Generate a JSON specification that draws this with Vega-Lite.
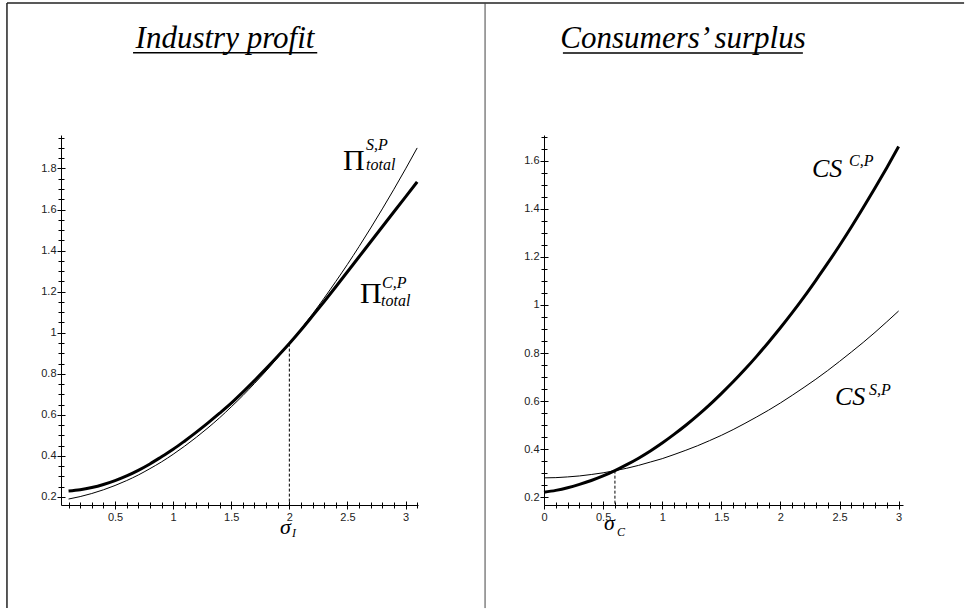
{
  "$schema": "https://vega.github.io/schema/vega-lite/v6.json",
  "background": "white",
  "padding": {"left": 6, "top": 2, "right": 0, "bottom": 0},
  "spacing": 126,
  "bounds": "flush",
  "config": {
    "view": {"stroke": null},
    "axis": {"grid": false, "domainColor": "black", "tickColor": "black", "labelColor": "#222", "labelFont": "Liberation Sans", "labelFontSize": 11, "labelOverlap": false, "labelFlush": false, "labelBound": false, "tickWidth": 1, "domainWidth": 1, "title": null}
  },
  "datasets": {
    "leftThick": [
      {"x": 0.1, "y": 0.229}, {"x": 0.2, "y": 0.235}, {"x": 0.3, "y": 0.246}, {"x": 0.4, "y": 0.261}, {"x": 0.5, "y": 0.28}, {"x": 0.6, "y": 0.303}, {"x": 0.7, "y": 0.33}, {"x": 0.8, "y": 0.361}, {"x": 0.9, "y": 0.396}, {"x": 1.0, "y": 0.432}, {"x": 1.1, "y": 0.473}, {"x": 1.2, "y": 0.516}, {"x": 1.3, "y": 0.561}, {"x": 1.4, "y": 0.608}, {"x": 1.5, "y": 0.657}, {"x": 1.6, "y": 0.711}, {"x": 1.7, "y": 0.767}, {"x": 1.8, "y": 0.825}, {"x": 1.9, "y": 0.885}, {"x": 2.0, "y": 0.947}, {"x": 2.1, "y": 1.013}, {"x": 2.2, "y": 1.082}, {"x": 2.3, "y": 1.152}, {"x": 2.4, "y": 1.224}, {"x": 2.5, "y": 1.297}, {"x": 2.6, "y": 1.37}, {"x": 2.7, "y": 1.443}, {"x": 2.8, "y": 1.516}, {"x": 2.9, "y": 1.589}, {"x": 3.0, "y": 1.662}, {"x": 3.1, "y": 1.735}
    ],
    "leftThin": [
      {"x": 0.1, "y": 0.19}, {"x": 0.2, "y": 0.202}, {"x": 0.3, "y": 0.217}, {"x": 0.4, "y": 0.235}, {"x": 0.5, "y": 0.256}, {"x": 0.6, "y": 0.28}, {"x": 0.7, "y": 0.307}, {"x": 0.8, "y": 0.338}, {"x": 0.9, "y": 0.371}, {"x": 1.0, "y": 0.408}, {"x": 1.1, "y": 0.448}, {"x": 1.2, "y": 0.491}, {"x": 1.3, "y": 0.537}, {"x": 1.4, "y": 0.586}, {"x": 1.5, "y": 0.639}, {"x": 1.6, "y": 0.694}, {"x": 1.7, "y": 0.753}, {"x": 1.8, "y": 0.814}, {"x": 1.9, "y": 0.879}, {"x": 2.0, "y": 0.947}, {"x": 2.1, "y": 1.018}, {"x": 2.2, "y": 1.092}, {"x": 2.3, "y": 1.169}, {"x": 2.4, "y": 1.25}, {"x": 2.5, "y": 1.333}, {"x": 2.6, "y": 1.42}, {"x": 2.7, "y": 1.51}, {"x": 2.8, "y": 1.603}, {"x": 2.9, "y": 1.699}, {"x": 3.0, "y": 1.798}, {"x": 3.1, "y": 1.9}
    ],
    "rightThick": [
      {"x": 0.0, "y": 0.22}, {"x": 0.1, "y": 0.228}, {"x": 0.2, "y": 0.239}, {"x": 0.3, "y": 0.253}, {"x": 0.4, "y": 0.269}, {"x": 0.5, "y": 0.288}, {"x": 0.6, "y": 0.31}, {"x": 0.7, "y": 0.335}, {"x": 0.8, "y": 0.362}, {"x": 0.9, "y": 0.392}, {"x": 1.0, "y": 0.425}, {"x": 1.1, "y": 0.461}, {"x": 1.2, "y": 0.499}, {"x": 1.3, "y": 0.54}, {"x": 1.4, "y": 0.584}, {"x": 1.5, "y": 0.631}, {"x": 1.6, "y": 0.68}, {"x": 1.7, "y": 0.732}, {"x": 1.8, "y": 0.787}, {"x": 1.9, "y": 0.845}, {"x": 2.0, "y": 0.905}, {"x": 2.1, "y": 0.968}, {"x": 2.2, "y": 1.034}, {"x": 2.3, "y": 1.103}, {"x": 2.4, "y": 1.174}, {"x": 2.5, "y": 1.248}, {"x": 2.6, "y": 1.325}, {"x": 2.7, "y": 1.405}, {"x": 2.8, "y": 1.487}, {"x": 2.9, "y": 1.572}, {"x": 3.0, "y": 1.66}
    ],
    "rightThin": [
      {"x": 0.0, "y": 0.28}, {"x": 0.1, "y": 0.281}, {"x": 0.2, "y": 0.284}, {"x": 0.3, "y": 0.288}, {"x": 0.4, "y": 0.294}, {"x": 0.5, "y": 0.301}, {"x": 0.6, "y": 0.31}, {"x": 0.7, "y": 0.32}, {"x": 0.8, "y": 0.332}, {"x": 0.9, "y": 0.346}, {"x": 1.0, "y": 0.36}, {"x": 1.1, "y": 0.377}, {"x": 1.2, "y": 0.395}, {"x": 1.3, "y": 0.414}, {"x": 1.4, "y": 0.435}, {"x": 1.5, "y": 0.457}, {"x": 1.6, "y": 0.481}, {"x": 1.7, "y": 0.507}, {"x": 1.8, "y": 0.534}, {"x": 1.9, "y": 0.562}, {"x": 2.0, "y": 0.592}, {"x": 2.1, "y": 0.624}, {"x": 2.2, "y": 0.657}, {"x": 2.3, "y": 0.691}, {"x": 2.4, "y": 0.727}, {"x": 2.5, "y": 0.765}, {"x": 2.6, "y": 0.804}, {"x": 2.7, "y": 0.844}, {"x": 2.8, "y": 0.886}, {"x": 2.9, "y": 0.93}, {"x": 3.0, "y": 0.975}
    ]
  },
  "hconcat": [
    {
      "width": 357,
      "height": 370,
      "resolve": {"axis": {"x": "independent", "y": "independent"}},
      "layer": [
        {
          "data": {"name": "leftThick"},
          "mark": {"type": "line", "stroke": "black", "strokeWidth": 3, "interpolate": "monotone"},
          "encoding": {
            "x": {"field": "x", "type": "quantitative", "scale": {"domain": [0.035, 3.107], "nice": false, "zero": false}, "axis": {"orient": "bottom", "values": [0.5, 1, 1.5, 2, 2.5, 3], "format": "~g", "tickSize": 4, "labelPadding": 2}},
            "y": {"field": "y", "type": "quantitative", "scale": {"domain": [0.161, 1.963], "nice": false, "zero": false}, "axis": {"orient": "left", "values": [0.2, 0.4, 0.6, 0.8, 1, 1.2, 1.4, 1.6, 1.8], "format": "~g", "tickSize": 4, "labelPadding": 1}}
          }
        },
        {
          "data": {"name": "leftThin"},
          "mark": {"type": "line", "stroke": "black", "strokeWidth": 1, "interpolate": "monotone"},
          "encoding": {
            "x": {"field": "x", "type": "quantitative", "scale": {"domain": [0.035, 3.107], "nice": false, "zero": false}, "axis": {"orient": "top", "offset": -370, "values": [0.5, 1, 1.5, 2, 2.5, 3], "tickSize": 4, "labels": false, "domain": false}},
            "y": {"field": "y", "type": "quantitative", "scale": {"domain": [0.161, 1.963], "nice": false, "zero": false}, "axis": {"orient": "right", "offset": -357, "values": [0.2, 0.4, 0.6, 0.8, 1, 1.2, 1.4, 1.6, 1.8], "tickSize": 4, "labels": false, "domain": false}}
          }
        },
        {
          "data": {"values": [{"x": 2.0, "y": 0.947, "y2": 0.161}]},
          "mark": {"type": "rule", "stroke": "black", "strokeWidth": 1, "strokeDash": [3, 2]},
          "encoding": {
            "x": {"field": "x", "type": "quantitative", "scale": {"domain": [0.035, 3.107], "nice": false, "zero": false}, "axis": {"orient": "bottom", "values": [0.1, 0.2, 0.3, 0.4, 0.5, 0.6, 0.7, 0.8, 0.9, 1, 1.1, 1.2, 1.3, 1.4, 1.5, 1.6, 1.7, 1.8, 1.9, 2, 2.1, 2.2, 2.3, 2.4, 2.5, 2.6, 2.7, 2.8, 2.9, 3, 3.1], "tickSize": 3, "labels": false, "domain": false}},
            "y": {"field": "y", "type": "quantitative", "scale": {"domain": [0.161, 1.963], "nice": false, "zero": false}, "axis": {"orient": "left", "values": [0.2, 0.25, 0.3, 0.35, 0.4, 0.45, 0.5, 0.55, 0.6, 0.65, 0.7, 0.75, 0.8, 0.85, 0.9, 0.95, 1, 1.05, 1.1, 1.15, 1.2, 1.25, 1.3, 1.35, 1.4, 1.45, 1.5, 1.55, 1.6, 1.65, 1.7, 1.75, 1.8, 1.85, 1.9, 1.95], "tickSize": 3, "labels": false, "domain": false}},
            "y2": {"field": "y2"}
          }
        },
        {
          "data": {"values": [{"x": 2.462, "y": 1.793, "t": "Π"}, {"x": 2.608, "y": 1.145, "t": "Π"}]},
          "mark": {"type": "text", "font": "Liberation Serif", "fontSize": 30, "align": "left", "baseline": "alphabetic", "color": "black"},
          "encoding": {
            "x": {"field": "x", "type": "quantitative", "scale": {"domain": [0.035, 3.107], "nice": false, "zero": false}, "axis": {"orient": "top", "offset": -370, "values": [0.1, 0.2, 0.3, 0.4, 0.5, 0.6, 0.7, 0.8, 0.9, 1, 1.1, 1.2, 1.3, 1.4, 1.5, 1.6, 1.7, 1.8, 1.9, 2, 2.1, 2.2, 2.3, 2.4, 2.5, 2.6, 2.7, 2.8, 2.9, 3, 3.1], "tickSize": 3, "labels": false, "domain": false}},
            "y": {"field": "y", "type": "quantitative", "scale": {"domain": [0.161, 1.963], "nice": false, "zero": false}, "axis": {"orient": "right", "offset": -357, "values": [0.2, 0.25, 0.3, 0.35, 0.4, 0.45, 0.5, 0.55, 0.6, 0.65, 0.7, 0.75, 0.8, 0.85, 0.9, 0.95, 1, 1.05, 1.1, 1.15, 1.2, 1.25, 1.3, 1.35, 1.4, 1.45, 1.5, 1.55, 1.6, 1.65, 1.7, 1.75, 1.8, 1.85, 1.9, 1.95], "tickSize": 3, "labels": false, "domain": false}},
            "text": {"field": "t"}
          }
        },
        {
          "data": {"values": [{"x": 2.66, "y": 1.89, "t": "S,P"}, {"x": 2.66, "y": 1.793, "t": "total"}, {"x": 2.797, "y": 1.218, "t": "C,P"}, {"x": 2.789, "y": 1.13, "t": "total"}]},
          "mark": {"type": "text", "font": "Liberation Serif", "fontStyle": "italic", "fontSize": 16, "align": "left", "baseline": "alphabetic", "color": "black"},
          "encoding": {
            "x": {"field": "x", "type": "quantitative", "scale": {"domain": [0.035, 3.107], "nice": false, "zero": false}, "axis": null},
            "y": {"field": "y", "type": "quantitative", "scale": {"domain": [0.161, 1.963], "nice": false, "zero": false}, "axis": null},
            "text": {"field": "t"}
          }
        },
        {
          "data": {"values": [{"x": 1.92, "y": 0.0198, "t": "σ"}]},
          "mark": {"type": "text", "font": "Liberation Serif", "fontStyle": "italic", "fontSize": 22, "align": "left", "baseline": "alphabetic", "color": "black"},
          "encoding": {
            "x": {"field": "x", "type": "quantitative", "scale": {"domain": [0.035, 3.107], "nice": false, "zero": false}, "axis": null},
            "y": {"field": "y", "type": "quantitative", "scale": {"domain": [0.161, 1.963], "nice": false, "zero": false}, "axis": null},
            "text": {"field": "t"}
          }
        },
        {
          "data": {"values": [{"x": 2.023, "y": 0.0052, "t": "I"}]},
          "mark": {"type": "text", "font": "Liberation Serif", "fontStyle": "italic", "fontSize": 12, "align": "left", "baseline": "alphabetic", "color": "black"},
          "encoding": {
            "x": {"field": "x", "type": "quantitative", "scale": {"domain": [0.035, 3.107], "nice": false, "zero": false}, "axis": null},
            "y": {"field": "y", "type": "quantitative", "scale": {"domain": [0.161, 1.963], "nice": false, "zero": false}, "axis": null},
            "text": {"field": "t"}
          }
        },
        {
          "data": {"values": [{"x": 1.446, "y": 2.387, "t": "Industry profit"}]},
          "mark": {"type": "text", "font": "Liberation Serif", "fontStyle": "italic", "fontSize": 31, "align": "center", "baseline": "alphabetic", "color": "black"},
          "encoding": {
            "x": {"field": "x", "type": "quantitative", "scale": {"domain": [0.035, 3.107], "nice": false, "zero": false}, "axis": null},
            "y": {"field": "y", "type": "quantitative", "scale": {"domain": [0.161, 1.963], "nice": false, "zero": false}, "axis": null},
            "text": {"field": "t"}
          }
        },
        {
          "data": {"values": [{"x": 0.655, "x2": 2.24, "y": 2.363}]},
          "mark": {"type": "rule", "stroke": "black", "strokeWidth": 1.5},
          "encoding": {
            "x": {"field": "x", "type": "quantitative", "scale": {"domain": [0.035, 3.107], "nice": false, "zero": false}, "axis": null},
            "x2": {"field": "x2"},
            "y": {"field": "y", "type": "quantitative", "scale": {"domain": [0.161, 1.963], "nice": false, "zero": false}, "axis": null}
          }
        },
        {
          "data": {"values": [{"x": -0.43, "x2": -0.43, "y": 2.606, "y2": -0.341}, {"x": -0.43, "x2": 7.806, "y": 2.606, "y2": 2.606}]},
          "mark": {"type": "rule", "stroke": "#222", "strokeWidth": 1.5},
          "encoding": {
            "x": {"field": "x", "type": "quantitative", "scale": {"domain": [0.035, 3.107], "nice": false, "zero": false}, "axis": null},
            "x2": {"field": "x2"},
            "y": {"field": "y", "type": "quantitative", "scale": {"domain": [0.161, 1.963], "nice": false, "zero": false}, "axis": null},
            "y2": {"field": "y2"}
          }
        },
        {
          "data": {"values": [{"x": 3.684, "x2": 3.684, "y": 2.606, "y2": -0.341}]},
          "mark": {"type": "rule", "stroke": "#444", "strokeWidth": 1},
          "encoding": {
            "x": {"field": "x", "type": "quantitative", "scale": {"domain": [0.035, 3.107], "nice": false, "zero": false}, "axis": null},
            "x2": {"field": "x2"},
            "y": {"field": "y", "type": "quantitative", "scale": {"domain": [0.161, 1.963], "nice": false, "zero": false}, "axis": null},
            "y2": {"field": "y2"}
          }
        }
      ]
    },
    {
      "width": 359,
      "height": 370,
      "resolve": {"axis": {"x": "independent", "y": "independent"}},
      "layer": [
        {
          "data": {"name": "rightThick"},
          "mark": {"type": "line", "stroke": "black", "strokeWidth": 3, "interpolate": "monotone"},
          "encoding": {
            "x": {"field": "x", "type": "quantitative", "scale": {"domain": [0, 3.037], "nice": false, "zero": false}, "axis": {"orient": "bottom", "values": [0, 0.5, 1, 1.5, 2, 2.5, 3], "format": "~g", "tickSize": 4, "labelPadding": 2}},
            "y": {"field": "y", "type": "quantitative", "scale": {"domain": [0.167, 1.708], "nice": false, "zero": false}, "axis": {"orient": "left", "values": [0.2, 0.4, 0.6, 0.8, 1, 1.2, 1.4, 1.6], "format": "~g", "tickSize": 4, "labelPadding": 1}}
          }
        },
        {
          "data": {"name": "rightThin"},
          "mark": {"type": "line", "stroke": "black", "strokeWidth": 1, "interpolate": "monotone"},
          "encoding": {
            "x": {"field": "x", "type": "quantitative", "scale": {"domain": [0, 3.037], "nice": false, "zero": false}, "axis": {"orient": "top", "offset": -370, "values": [0, 0.5, 1, 1.5, 2, 2.5, 3], "tickSize": 4, "labels": false, "domain": false}},
            "y": {"field": "y", "type": "quantitative", "scale": {"domain": [0.167, 1.708], "nice": false, "zero": false}, "axis": {"orient": "right", "offset": -359, "values": [0.2, 0.4, 0.6, 0.8, 1, 1.2, 1.4, 1.6], "tickSize": 4, "labels": false, "domain": false}}
          }
        },
        {
          "data": {"values": [{"x": 0.6, "y": 0.31, "y2": 0.167}]},
          "mark": {"type": "rule", "stroke": "black", "strokeWidth": 1, "strokeDash": [3, 2]},
          "encoding": {
            "x": {"field": "x", "type": "quantitative", "scale": {"domain": [0, 3.037], "nice": false, "zero": false}, "axis": {"orient": "bottom", "values": [0.1, 0.2, 0.3, 0.4, 0.5, 0.6, 0.7, 0.8, 0.9, 1, 1.1, 1.2, 1.3, 1.4, 1.5, 1.6, 1.7, 1.8, 1.9, 2, 2.1, 2.2, 2.3, 2.4, 2.5, 2.6, 2.7, 2.8, 2.9, 3], "tickSize": 3, "labels": false, "domain": false}},
            "y": {"field": "y", "type": "quantitative", "scale": {"domain": [0.167, 1.708], "nice": false, "zero": false}, "axis": {"orient": "left", "values": [0.2, 0.25, 0.3, 0.35, 0.4, 0.45, 0.5, 0.55, 0.6, 0.65, 0.7, 0.75, 0.8, 0.85, 0.9, 0.95, 1, 1.05, 1.1, 1.15, 1.2, 1.25, 1.3, 1.35, 1.4, 1.45, 1.5, 1.55, 1.6, 1.65, 1.7], "tickSize": 3, "labels": false, "domain": false}},
            "y2": {"field": "y2"}
          }
        },
        {
          "data": {"values": [{"x": 2.267, "y": 1.533, "t": "CS"}, {"x": 2.462, "y": 0.583, "t": "CS"}]},
          "mark": {"type": "text", "font": "Liberation Serif", "fontStyle": "italic", "fontSize": 26, "align": "left", "baseline": "alphabetic", "color": "black"},
          "encoding": {
            "x": {"field": "x", "type": "quantitative", "scale": {"domain": [0, 3.037], "nice": false, "zero": false}, "axis": {"orient": "top", "offset": -370, "values": [0.1, 0.2, 0.3, 0.4, 0.5, 0.6, 0.7, 0.8, 0.9, 1, 1.1, 1.2, 1.3, 1.4, 1.5, 1.6, 1.7, 1.8, 1.9, 2, 2.1, 2.2, 2.3, 2.4, 2.5, 2.6, 2.7, 2.8, 2.9, 3], "tickSize": 3, "labels": false, "domain": false}},
            "y": {"field": "y", "type": "quantitative", "scale": {"domain": [0.167, 1.708], "nice": false, "zero": false}, "axis": {"orient": "right", "offset": -359, "values": [0.2, 0.25, 0.3, 0.35, 0.4, 0.45, 0.5, 0.55, 0.6, 0.65, 0.7, 0.75, 0.8, 0.85, 0.9, 0.95, 1, 1.05, 1.1, 1.15, 1.2, 1.25, 1.3, 1.35, 1.4, 1.45, 1.5, 1.55, 1.6, 1.65, 1.7], "tickSize": 3, "labels": false, "domain": false}},
            "text": {"field": "t"}
          }
        },
        {
          "data": {"values": [{"x": 2.58, "y": 1.579, "t": "C,P"}, {"x": 2.75, "y": 0.625, "t": "S,P"}]},
          "mark": {"type": "text", "font": "Liberation Serif", "fontStyle": "italic", "fontSize": 16, "align": "left", "baseline": "alphabetic", "color": "black"},
          "encoding": {
            "x": {"field": "x", "type": "quantitative", "scale": {"domain": [0, 3.037], "nice": false, "zero": false}, "axis": null},
            "y": {"field": "y", "type": "quantitative", "scale": {"domain": [0.167, 1.708], "nice": false, "zero": false}, "axis": null},
            "text": {"field": "t"}
          }
        },
        {
          "data": {"values": [{"x": 0.508, "y": 0.0625, "t": "σ"}]},
          "mark": {"type": "text", "font": "Liberation Serif", "fontStyle": "italic", "fontSize": 22, "align": "left", "baseline": "alphabetic", "color": "black"},
          "encoding": {
            "x": {"field": "x", "type": "quantitative", "scale": {"domain": [0, 3.037], "nice": false, "zero": false}, "axis": null},
            "y": {"field": "y", "type": "quantitative", "scale": {"domain": [0.167, 1.708], "nice": false, "zero": false}, "axis": null},
            "text": {"field": "t"}
          }
        },
        {
          "data": {"values": [{"x": 0.618, "y": 0.0375, "t": "C"}]},
          "mark": {"type": "text", "font": "Liberation Serif", "fontStyle": "italic", "fontSize": 12, "align": "left", "baseline": "alphabetic", "color": "black"},
          "encoding": {
            "x": {"field": "x", "type": "quantitative", "scale": {"domain": [0, 3.037], "nice": false, "zero": false}, "axis": null},
            "y": {"field": "y", "type": "quantitative", "scale": {"domain": [0.167, 1.708], "nice": false, "zero": false}, "axis": null},
            "text": {"field": "t"}
          }
        },
        {
          "data": {"values": [{"x": 1.176, "y": 2.071, "t": "Consumers’ surplus"}]},
          "mark": {"type": "text", "font": "Liberation Serif", "fontStyle": "italic", "fontSize": 31, "align": "center", "baseline": "alphabetic", "color": "black"},
          "encoding": {
            "x": {"field": "x", "type": "quantitative", "scale": {"domain": [0, 3.037], "nice": false, "zero": false}, "axis": null},
            "y": {"field": "y", "type": "quantitative", "scale": {"domain": [0.167, 1.708], "nice": false, "zero": false}, "axis": null},
            "text": {"field": "t"}
          }
        },
        {
          "data": {"values": [{"x": 0.16, "x2": 2.19, "y": 2.05}]},
          "mark": {"type": "rule", "stroke": "black", "strokeWidth": 1.5},
          "encoding": {
            "x": {"field": "x", "type": "quantitative", "scale": {"domain": [0, 3.037], "nice": false, "zero": false}, "axis": null},
            "x2": {"field": "x2"},
            "y": {"field": "y", "type": "quantitative", "scale": {"domain": [0.167, 1.708], "nice": false, "zero": false}, "axis": null}
          }
        }
      ]
    }
  ]
}
